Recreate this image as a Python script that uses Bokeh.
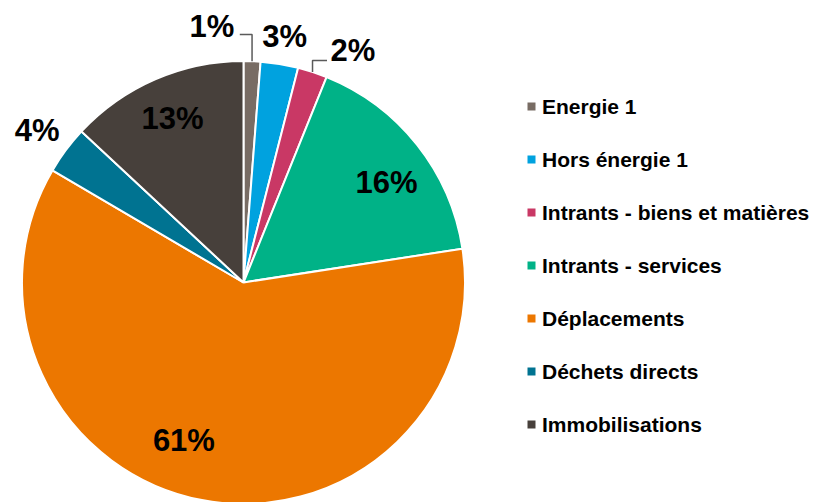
import numpy as np
from bokeh.plotting import figure
from bokeh.models import Range1d, ColumnDataSource
from bokeh.core.properties import value
from bokeh.embed import file_html
from bokeh.resources import INLINE

# ---- data ----
categories = ["Energie 1", "Hors énergie 1", "Intrants - biens et matières",
              "Intrants - services", "Déplacements", "Déchets directs", "Immobilisations"]
shares = [1.23, 2.74, 2.15, 16.45, 60.9, 3.5, 13.06]
pct_labels = ["1%", "3%", "2%", "16%", "61%", "4%", "13%"]
colors = ["#786c64", "#00a2df", "#c93865", "#00b287", "#ec7700", "#007391", "#47403b"]

# ---- layout (pixels) ----
W, H = 815, 502
cx, cy, R = 243, 220, 221.5
# label offsets from pie centre (px)
lab_dx = [-31.7, 41.2, 109.5, 143, -59.6, -206.3, -71]
lab_dy = [256, 246, 232, 100, -158, 152, 164.5]
FONT = value("Liberation Sans")

vals = np.array(shares, dtype=float)
frac = vals / vals.sum()
cum = np.concatenate([[0], np.cumsum(frac)])
start = np.pi / 2 - 2 * np.pi * cum[:-1]
end = np.pi / 2 - 2 * np.pi * cum[1:]
mid = (start + end) / 2

p = figure(width=W, height=H, x_range=Range1d(0, W), y_range=Range1d(0, H),
           output_backend="svg", toolbar_location=None, min_border=0)
p.axis.visible = False
p.grid.visible = False
p.outline_line_color = None
p.background_fill_color = "white"
p.border_fill_color = "white"

src = ColumnDataSource(dict(cat=categories, start=start, end=end, color=colors))
p.wedge(x=cx, y=cy, radius=R, start_angle="start", end_angle="end", direction="clock",
        fill_color="color", line_color="white", line_width=2, source=src)

# labels
lx = [cx + d for d in lab_dx]
ly = [cy + d for d in lab_dy]
p.text(x=lx, y=ly, text=pct_labels, text_font=FONT, text_font_style="bold",
       text_font_size="31px", text_align="center", text_baseline="middle",
       text_color="black")

# leader lines for small outside labels (1% and 2%)
for i in (0, 2):
    ex = cx + R * np.cos(mid[i])
    ey = cy + R * np.sin(mid[i])
    ty = ly[i] - 8 if i == 0 else ly[i] - 10
    tx = lx[i] + 28 if i == 0 else lx[i] - 26
    p.line(x=[tx, ex, ex], y=[ty, ty, ey], line_color="#5a5a5a", line_width=1.5)

# legend
leg_x = 531
leg_y = [396 - 53 * i for i in range(len(categories))]
p.scatter(x=[leg_x] * len(categories), y=leg_y, marker="square", size=8,
          fill_color=colors, line_color=None)
p.text(x=[leg_x + 10.5] * len(categories), y=leg_y, text=categories, text_font=FONT,
       text_font_style="bold", text_font_size="21px", text_align="left",
       text_baseline="middle", text_color="black")

open("out.html", "w").write(file_html(p, INLINE))
